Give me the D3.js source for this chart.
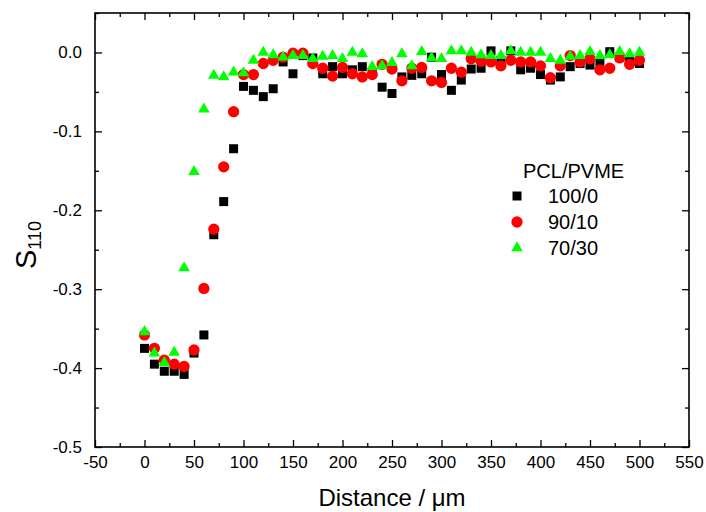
<!DOCTYPE html>
<html>
<head>
    <meta charset="utf-8">
    <title>S110 vs distance</title>
    <script type="text/javascript" src="https://cdn.jsdelivr.net/npm/d3@7"></script>
    <style type="text/css">
        body { margin: 0; background-color: #fff; }
        #chart { display: block; }
        text { font-family: Arial, "Liberation Sans", sans-serif; fill: #000; }
        .axis path { display: none; }
        .axis line { stroke: #000; stroke-width: 1.3px; }
        .axis text { font-size: 17px; }
    </style>
</head>
<body>
    <svg id="chart" width="706" height="512"></svg>
</body>
<script type="text/javascript">
    // distance in um
    const distance = d3.range(0, 501, 10);
    const series_names = ["100/0", "90/10", "70/30"];
    const s_100_0 = [-0.375, -0.395, -0.404, -0.404, -0.408, -0.381, -0.358, -0.231, -0.189, -0.122,
        -0.043, -0.048, -0.056, -0.046, -0.012, -0.027, -0.004, -0.007, -0.027, -0.018,
        -0.027, -0.022, -0.018, -0.025, -0.044, -0.052, -0.031, -0.029, -0.027, -0.006,
        -0.028, -0.048, -0.035, -0.021, -0.020, 0.002, -0.010, 0.002, -0.022, -0.020,
        -0.028, -0.035, -0.031, -0.018, -0.014, -0.016, -0.012, 0.001, -0.006, -0.010, -0.014];
    const s_90_10 = [-0.358, -0.375, -0.390, -0.395, -0.398, -0.377, -0.299, -0.224, -0.145, -0.075,
        -0.028, -0.028, -0.014, -0.010, -0.006, -0.001, -0.001, -0.014, -0.020, -0.030,
        -0.019, -0.027, -0.031, -0.028, -0.015, -0.021, -0.036, -0.020, -0.019, -0.036,
        -0.038, -0.020, -0.025, -0.008, -0.011, -0.012, -0.017, -0.010, -0.012, -0.012,
        -0.017, -0.032, -0.017, -0.004, -0.012, -0.008, -0.022, -0.020, -0.007, -0.015, -0.010];
    const s_70_30 = [-0.354, -0.381, -0.393, -0.380, -0.273, -0.151, -0.072, -0.029, -0.031, -0.025,
        -0.026, -0.010, 0.000, -0.003, -0.006, -0.004, -0.004, -0.008, -0.005, -0.004,
        -0.008, 0.000, -0.002, -0.018, -0.017, -0.013, -0.002, -0.017, 0.001, -0.007,
        -0.008, 0.002, 0.002, 0.000, -0.003, -0.004, -0.004, 0.002, 0.000, 0.000,
        0.000, -0.008, -0.010, -0.005, -0.004, 0.001, -0.004, -0.003, 0.001, -0.002, 0.000];
    const x_ticks = d3.range(-50, 551, 50);
    const y_ticks = [0.0, -0.1, -0.2, -0.3, -0.4, -0.5];

    const svg = d3.select("#chart");
    const m_left = 95, m_right = 689, m_top = 13, m_bottom = 447;

    let x = d3.scaleLinear().domain([-50, 550]).range([m_left, m_right]);
    let y = d3.scaleLinear().domain([-0.5, 0.05]).range([m_bottom, m_top]);

    // minor ticks
    const x_minor = d3.range(-25, 550, 50);
    const y_minor = [-0.05, -0.15, -0.25, -0.35, -0.45, 0.05];

    function addAxis(axis, tr) {
        return svg.append("g").attr("class", "axis").attr("transform", tr).call(axis);
    }
    addAxis(d3.axisBottom(x).tickValues(x_ticks).tickSizeInner(-7).tickSizeOuter(0).tickPadding(9)
        .tickFormat(d3.format("d")), "translate(0," + m_bottom + ")");
    addAxis(d3.axisBottom(x).tickValues(x_minor).tickSize(-4).tickFormat(""), "translate(0," + m_bottom + ")");
    addAxis(d3.axisTop(x).tickValues(x_ticks).tickSize(-7).tickFormat(""), "translate(0," + m_top + ")");
    addAxis(d3.axisTop(x).tickValues(x_minor).tickSize(-4).tickFormat(""), "translate(0," + m_top + ")");
    addAxis(d3.axisLeft(y).tickValues(y_ticks).tickSizeInner(-7).tickSizeOuter(0).tickPadding(13)
        .tickFormat(d3.format(".1f")), "translate(" + m_left + ",0)");
    addAxis(d3.axisLeft(y).tickValues(y_minor).tickSize(-4).tickFormat(""), "translate(" + m_left + ",0)");
    addAxis(d3.axisRight(y).tickValues(y_ticks).tickSize(-7).tickFormat(""), "translate(" + m_right + ",0)");
    addAxis(d3.axisRight(y).tickValues(y_minor).tickSize(-4).tickFormat(""), "translate(" + m_right + ",0)");

    // plain hyphen for negatives, like the original
    svg.selectAll(".axis text").text(function() { return d3.select(this).text().replace("\u2212", "-"); });

    svg.append("rect")
        .attr("x", m_left).attr("y", m_top)
        .attr("width", m_right - m_left).attr("height", m_bottom - m_top)
        .attr("fill", "none").attr("stroke", "#000").attr("stroke-width", 1.6);

    const styles = [
        { sym: d3.symbolSquare, size: 81, color: "#000000" },
        { sym: d3.symbolCircle, size: 100, color: "#ff0000" },
        { sym: d3.symbolTriangle, size: 58, color: "#00ff00" }
    ];
    const all_series = [s_100_0, s_90_10, s_70_30];

    all_series.forEach(function(vals, i) {
        let st = styles[i];
        svg.append("g").selectAll("path")
            .data(vals)
            .enter().append("path")
            .attr("d", d3.symbol().type(st.sym).size(st.size))
            .attr("transform", function(d, j) { return "translate(" + x(distance[j]) + "," + y(d) + ")"; })
            .attr("fill", st.color);
    });

    // legend
    let legend = svg.append("g");
    legend.append("text").attr("x", 523).attr("y", 178).attr("font-size", 20).text("PCL/PVME");
    series_names.forEach(function(name, i) {
        let ly = 196 + i * 26;
        let st = styles[i];
        legend.append("path")
            .attr("d", d3.symbol().type(st.sym).size(st.size))
            .attr("transform", "translate(517," + ly + ")")
            .attr("fill", st.color);
        legend.append("text").attr("x", 548).attr("y", ly + 7).attr("font-size", 20).text(name);
    });

    // axis titles
    svg.append("text")
        .attr("x", 392).attr("y", 506)
        .attr("text-anchor", "middle").attr("font-size", 24)
        .text("Distance / \u03bcm");

    let ylab = svg.append("text")
        .attr("transform", "translate(36,245) rotate(-90)")
        .attr("text-anchor", "middle");
    ylab.append("tspan").attr("font-size", 29).text("S");
    ylab.append("tspan").attr("font-size", 18).attr("dy", 5).text("110");
</script>
</html>
